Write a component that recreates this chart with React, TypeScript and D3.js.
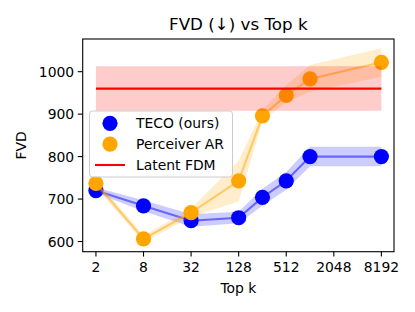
import React from 'react';
import * as d3 from 'd3';

// Top-k values on the x axis (log2 scale)
const topK = [2, 8, 32, 128, 256, 512, 1024, 8192];
const xTicks = [2, 8, 32, 128, 512, 2048, 8192];
const yTicks = [600, 700, 800, 900, 1000];

// TECO (ours)
const tecoMean = [720, 684, 649, 656, 704, 743, 800, 800];
const tecoLow = [714, 671, 635, 643, 684, 722, 777, 777];
const tecoHigh = [727, 697, 664, 670, 724, 764, 823, 823];

// Perceiver AR
const perceiverMean = [737, 606, 668, 743, 896, 944, 983, 1022];
const perceiverLow = [728, 598, 658, 694, 884, 928, 953, 988];
const perceiverHigh = [746, 614, 678, 790, 910, 968, 1016, 1055];

// Latent FDM (constant)
const fdmMean = 960;
const fdmLow = 908;
const fdmHigh = 1013;

const W = 415;
const H = 312;
const font = 'DejaVu Sans, sans-serif';

export default function App() {
    const margin = { left: 82.7, right: 394, top: 39, bottom: 251.7 };

    const x = d3.scaleLog().base(2)
        .domain([1.36, Math.pow(2, 13.53)])
        .range([margin.left, margin.right]);
    const y = d3.scaleLinear()
        .domain([576, 1077])
        .range([margin.bottom, margin.top]);

    const line = d3.line<number>()
        .x((_, i) => x(topK[i]))
        .y(d => y(d));

    const band = (lo: number[], hi: number[]) =>
        d3.area<number>()
            .x((_, i) => x(topK[i]))
            .y0((_, i) => y(lo[i]))
            .y1((_, i) => y(hi[i]))(topK) || '';

    const series = [
        { name: 'TECO (ours)', color: '#0000ff', mean: tecoMean, lo: tecoLow, hi: tecoHigh },
        { name: 'Perceiver AR', color: '#ffa500', mean: perceiverMean, lo: perceiverLow, hi: perceiverHigh },
    ];

    const x0 = x(topK[0]);
    const x1 = x(topK[topK.length - 1]);

    return (
        <div style={{ position: 'fixed', left: 0, top: 0 }}>
            <svg width={W} height={H} style={{ background: '#fff', display: 'block' }} fontFamily={font}>
                <defs>
                    <clipPath id="plot">
                        <rect x={margin.left} y={margin.top} width={margin.right - margin.left} height={margin.bottom - margin.top} />
                    </clipPath>
                </defs>

                <g clipPath="url(#plot)">
                    {series.map(s => (
                        <g key={s.name}>
                            <path d={band(s.lo, s.hi)} fill={s.color} fillOpacity={0.2} />
                            <path d={line(s.mean) || ''} fill="none" stroke={s.color} strokeOpacity={0.5} strokeWidth={2.1} />
                            {s.mean.map((v, i) => (
                                <circle key={i} cx={x(topK[i])} cy={y(v)} r={7.6} fill={s.color} />
                            ))}
                        </g>
                    ))}
                    {/* Latent FDM band + line */}
                    <rect x={x0} y={y(fdmHigh)} width={x1 - x0} height={y(fdmLow) - y(fdmHigh)}
                        fill="#ff0000" fillOpacity={0.2} />
                    <line x1={x0} x2={x1} y1={y(fdmMean)} y2={y(fdmMean)} stroke="#ff0000" strokeWidth={2.1} />
                </g>

                {/* axes frame */}
                <rect x={margin.left} y={margin.top} width={margin.right - margin.left} height={margin.bottom - margin.top}
                    fill="none" stroke="#000" strokeWidth={1.1} />

                {/* x ticks */}
                {xTicks.map(t => (
                    <g key={t} transform={`translate(${x(t)},${margin.bottom})`}>
                        <line y2={4.9} stroke="#000" strokeWidth={1.1} />
                        <text y={20.5} textAnchor="middle" fontSize={13.9} fill="#000">{t}</text>
                    </g>
                ))}
                {/* y ticks */}
                {yTicks.map(t => (
                    <g key={t} transform={`translate(${margin.left},${y(t)})`}>
                        <line x2={-4.9} stroke="#000" strokeWidth={1.1} />
                        <text x={-8.5} dy="0.36em" textAnchor="end" fontSize={13.9} fill="#000">{t}</text>
                    </g>
                ))}

                <text x={(margin.left + margin.right) / 2} y={30} textAnchor="middle" fontSize={16.7} fill="#000">FVD (↓) vs Top k</text>
                <text x={(margin.left + margin.right) / 2} y={293} textAnchor="middle" fontSize={13.9} fill="#000">Top k</text>
                <text transform={`translate(26,${(margin.top + margin.bottom) / 2}) rotate(-90)`} textAnchor="middle" fontSize={13.9} fill="#000">FVD</text>

                {/* legend */}
                <g>
                    <rect x={89.5} y={111} width={143} height={66} rx={3} fill="#fff" fillOpacity={0.8} stroke="#cccccc" strokeWidth={1} />
                    {series.map((s, i) => (
                        <g key={s.name} transform={`translate(0,${123.3 + i * 20.8})`}>
                            <circle cx={110} cy={0} r={7.6} fill={s.color} />
                            <text x={136} dy="0.36em" fontSize={13.9} fill="#000">{s.name}</text>
                        </g>
                    ))}
                    <g transform="translate(0,165)">
                        <line x1={95} x2={125} stroke="#ff0000" strokeWidth={2.1} />
                        <text x={136} dy="0.36em" fontSize={13.9} fill="#000">Latent FDM</text>
                    </g>
                </g>
            </svg>
        </div>
    );
}
